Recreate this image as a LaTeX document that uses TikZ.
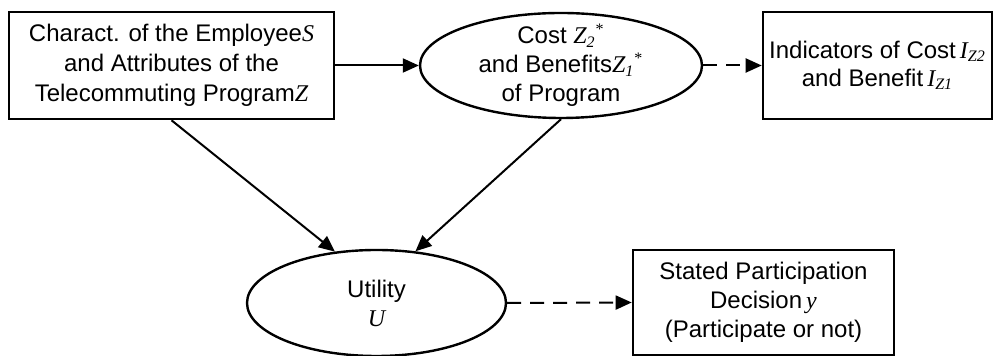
\documentclass[tikz,border=0pt]{standalone}
\usepackage{fontspec}
\setmainfont{Liberation Sans}
\newfontfamily\tnr{Liberation Serif}
\usetikzlibrary{arrows.meta,shapes.geometric}
\newcommand{\mvar}[1]{{\tnr\itshape #1}}

\begin{document}
\begin{tikzpicture}[>={Triangle[length=8pt,width=7pt]},x=0.5pt,y=-0.5pt,
                    line width=1pt,font=\fontsize{12}{14.5}\selectfont]
  \tikzstyle{box}=[draw,rectangle,line width=1.3pt,align=center,inner sep=2pt]
  \tikzstyle{oval}=[draw,ellipse,line width=1.2pt,align=center,inner xsep=2pt,inner ysep=-3pt]
  \useasboundingbox (0,0) rectangle (994,356);

  \node[box,minimum width=162.5pt,minimum height=53.5pt,font=\fontsize{12}{15}\selectfont]
        (char) at (171.5,65.5)
        {Charact. of the Employee\mvar{S}\\ and Attributes of the\\ Telecommuting Program\mvar{Z}};
  \node[oval,minimum width=141pt,minimum height=52.5pt] (cost) at (561,65.5)
        {Cost \mvar{Z}\textsubscript{\mvar{2}}\textsuperscript{\tnr *}\\
         and Benefits\mvar{Z}\textsubscript{\mvar{1}}\textsuperscript{\tnr *}\\ of Program};
  \node[box,minimum width=114.5pt,minimum height=53.5pt,font=\fontsize{12}{14}\selectfont]
        (ind) at (877.5,65.5)
        {Indicators of Cost\,\mvar{I}\textsubscript{\mvar{Z2}}\\ and Benefit\,\mvar{I}\textsubscript{\mvar{Z1}}};
  \node[oval,minimum width=129.5pt,minimum height=53pt] (util) at (376.5,303)
        {Utility\\ \mvar{U}};
  \node[box,minimum width=130.5pt,minimum height=52.5pt] (stated) at (763.5,302.5)
        {Stated Participation\\ Decision\,\mvar{y}\\ (Participate or not)};

  \path[->] (char)       edge (cost)
            (char.south) edge (util.129)
            (cost.south) edge (util.53);
  \path[->,dash pattern=on 7pt off 4.5pt]
            (cost)       edge (ind)
            (util.east)  edge (stated.west);
\end{tikzpicture}
\end{document}
